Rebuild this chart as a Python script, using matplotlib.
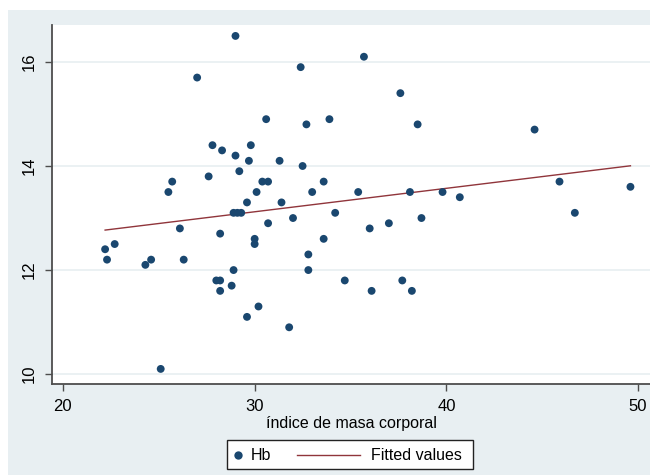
import numpy as np
import matplotlib
matplotlib.use("Agg")
import matplotlib.pyplot as plt
from matplotlib.patches import Rectangle
from matplotlib.lines import Line2D

# Body mass index (x) and haemoglobin (Hb, y) for each subject
imc = [22.2, 22.3, 22.7, 24.3, 24.6, 25.1, 25.5, 25.7, 26.1, 26.3,
       27.0, 27.6, 27.8, 28.0, 28.2, 28.2, 28.2, 28.3, 28.8, 28.9,
       28.9, 29.0, 29.0, 29.1, 29.2, 29.3, 29.6, 29.6, 29.7, 29.8,
       30.1, 30.0, 30.0, 30.2, 30.4, 30.6, 30.7, 30.7, 31.3, 31.4,
       31.8, 32.0, 32.4, 32.5, 32.7, 32.8, 32.8, 33.0, 33.6, 33.6,
       33.9, 34.2, 34.7, 35.4, 35.7, 36.0, 36.1, 37.0, 37.6, 37.7,
       38.1, 38.2, 38.5, 38.7, 39.8, 40.7, 44.6, 45.9, 46.7, 49.6]
hb = [12.4, 12.2, 12.5, 12.1, 12.2, 10.1, 13.5, 13.7, 12.8, 12.2,
      15.7, 13.8, 14.4, 11.8, 11.8, 12.7, 11.6, 14.3, 11.7, 13.1,
      12.0, 16.5, 14.2, 13.1, 13.9, 13.1, 13.3, 11.1, 14.1, 14.4,
      13.5, 12.6, 12.5, 11.3, 13.7, 14.9, 12.9, 13.7, 14.1, 13.3,
      10.9, 13.0, 15.9, 14.0, 14.8, 12.3, 12.0, 13.5, 12.6, 13.7,
      14.9, 13.1, 11.8, 13.5, 16.1, 12.8, 11.6, 12.9, 15.4, 11.8,
      13.5, 11.6, 14.8, 13.0, 13.5, 13.4, 14.7, 13.7, 13.1, 13.6]

x_ticks = [20, 30, 40, 50]
y_ticks = [10, 12, 14, 16]
x_label = "índice de masa corporal"
legend_labels = ["Hb", "Fitted values"]

NAVY = "#1a476f"
MAROON = "#90353b"
REGION = "#e8eff2"
GRID = "#e6eef0"
AXIS = "#4d4d4d"
FONT = "Liberation Sans"

W, H = 650, 475
fig = plt.figure(figsize=(W / 100, H / 100), dpi=100)
fig.patch.set_facecolor("white")


def fx(px):
    return px / W


def fy(py):
    return 1 - py / H


# graph region background (behind the axes)
fig.patches.append(Rectangle((fx(8), 0), 1 - fx(8), fy(10), transform=fig.transFigure,
                             facecolor=REGION, edgecolor="none", zorder=-10))

ax = fig.add_axes([fx(52), fy(384), 1 - fx(52), fy(25) - fy(384)])
ax.set_zorder(1)
ax.set_facecolor("white")

x = np.array(imc)
y = np.array(hb)
slope, intercept = np.polyfit(x, y, 1)
xf = np.array([x.min(), x.max()])
yf = intercept + slope * xf

ax.scatter(x, y, s=32, color=NAVY, edgecolors="none", zorder=3)
ax.plot(xf, yf, color=MAROON, lw=1.0, zorder=2)

ax.set_xlim(19.43, 50.62)
ax.set_ylim(9.81, 16.71)
ax.set_xticks(x_ticks)
ax.set_yticks(y_ticks)
ax.yaxis.grid(True, color=GRID, lw=1.1)
ax.set_axisbelow(True)

for side in ("top", "right"):
    ax.spines[side].set_visible(False)
for side in ("left", "bottom"):
    ax.spines[side].set_color(AXIS)
    ax.spines[side].set_linewidth(1.3)

ax.tick_params(axis="both", direction="out", length=5, width=1.0, color=AXIS,
               labelsize=12, pad=6)
for lab in ax.get_xticklabels():
    lab.set_fontfamily(FONT)
for lab in ax.get_yticklabels():
    lab.set_fontfamily(FONT)
    lab.set_rotation(90)
    lab.set_va("center")

ax.set_xlabel(x_label, fontsize=11.5, fontfamily=FONT, labelpad=1)

# legend box
fig.patches.append(Rectangle((fx(227), fy(469)), fx(473) - fx(227), fy(440) - fy(469),
                             transform=fig.transFigure, facecolor="white",
                             edgecolor="#222222", lw=1.0, zorder=5))
fig.lines.append(Line2D([fx(238)], [fy(455)], transform=fig.transFigure, marker="o",
                        markersize=6, color=NAVY, markeredgewidth=0, zorder=6))
fig.text(fx(251), fy(455), legend_labels[0], fontsize=11.5, fontfamily=FONT,
         va="center", ha="left", zorder=6)
fig.lines.append(Line2D([fx(297), fx(360)], [fy(455), fy(455)], transform=fig.transFigure,
                        color=MAROON, lw=1.0, zorder=6))
fig.text(fx(371), fy(455), legend_labels[1], fontsize=11.5, fontfamily=FONT,
         va="center", ha="left", zorder=6)

fig.savefig("out.png", dpi=100)
